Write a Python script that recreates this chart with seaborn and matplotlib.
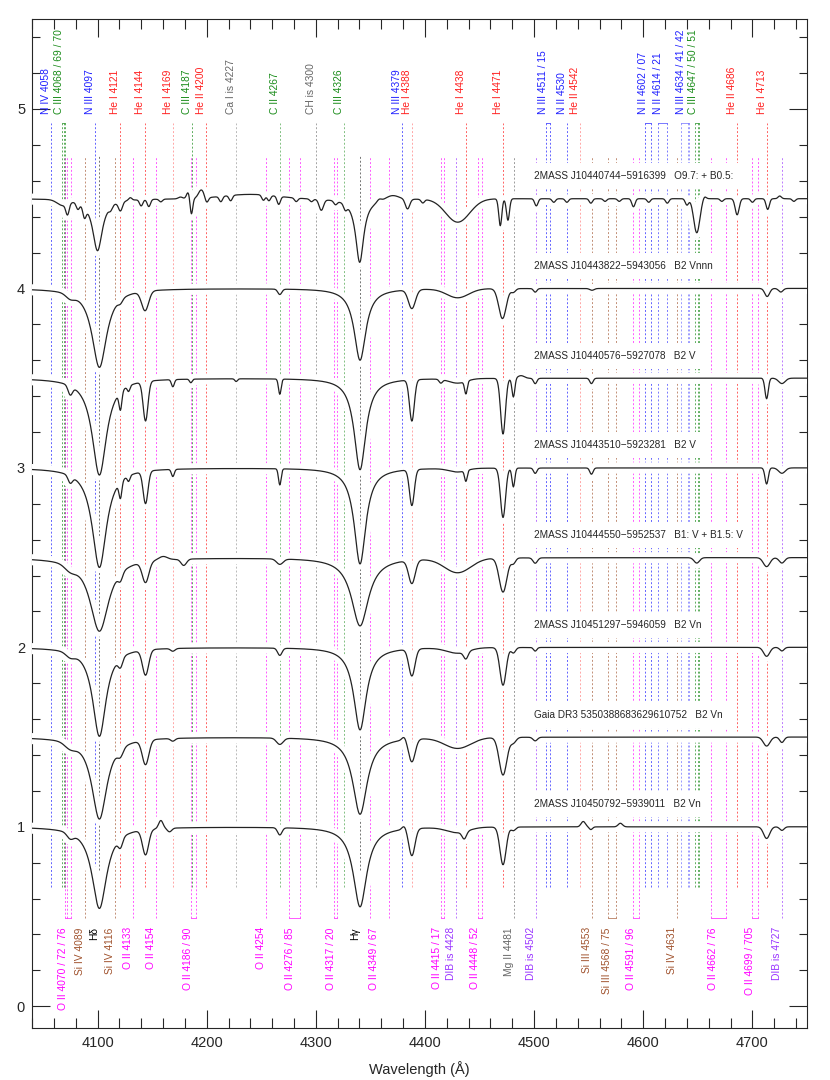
import numpy as np
import pandas as pd
import seaborn as sns
import matplotlib.pyplot as plt
import matplotlib.patheffects as pe
from matplotlib.ticker import MultipleLocator

sns.set_style('ticks')
plt.rcParams['font.family'] = ['Liberation Sans', 'DejaVu Sans']

# ---- stars: name, offset, Balmer line parameters ----
star_names = ["2MASS J10440744\u22125916399   O9.7: + B0.5:",
              "2MASS J10443822\u22125943056   B2 Vnnn",
              "2MASS J10440576\u22125927078   B2 V",
              "2MASS J10443510\u22125923281   B2 V",
              "2MASS J10444550\u22125952537   B1: V + B1.5: V",
              "2MASS J10451297\u22125946059   B2 Vn",
              "Gaia DR3 5350388683629610752   B2 Vn",
              "2MASS J10450792\u22125939011   B2 Vn"]
offsets = [4.5, 4.0, 3.5, 3.0, 2.5, 2.0, 1.5, 1.0]

hd_wl = [4100.0, 4101.7, 4101.7, 4101.7, 4101.7, 4101.7, 4101.7, 4101.7]
hd_depth = [0.29, 0.44, 0.54, 0.555, 0.41, 0.496, 0.457, 0.455]
hd_gamma = [5.5, 8.2, 8.0, 8.0, 10.5, 7.5, 8.5, 8.2]
hg_wl = [4340.2, 4340.5, 4340.5, 4340.5, 4340.5, 4340.5, 4340.5, 4340.5]
hg_depth = [0.355, 0.40, 0.51, 0.535, 0.38, 0.46, 0.43, 0.446]
hg_gamma = [4.5, 6.5, 6.5, 6.5, 9.5, 7.0, 8.0, 7.5]

# ---- other features per star: centre (A), depth, sigma (A); negative depth = bump ----
s1_wl = [4068, 4072.5, 4082, 4088, 4112, 4121, 4130, 4140, 4147, 4158, 4176, 4183, 4186, 4195,
         4200, 4213, 4222, 4240, 4252, 4257, 4266, 4282, 4296, 4305, 4318, 4327, 4358, 4370,
         4384, 4398, 4430, 4469, 4476, 4502, 4518, 4530, 4552, 4565, 4578, 4591, 4605, 4622,
         4640, 4649, 4656, 4672, 4686, 4700, 4714, 4725, 4738]
s1_depth = [0.03, 0.06, 0.035, 0.06, 0.02, 0.05, -0.015, 0.035, 0.04, 0.015, -0.01, -0.035, 0.09, -0.045,
            0.03, 0.03, 0.03, -0.025, 0.03, 0.03, 0.045, 0.02, 0.015, 0.06, 0.02, 0.03, -0.015, -0.025,
            0.055, 0.02, 0.13, 0.15, 0.12, 0.04, 0.02, 0.02, 0.025, 0.015, 0.015, 0.045, 0.02, 0.025,
            0.035, 0.19, -0.015, 0.015, 0.09, 0.02, 0.06, -0.015, 0.015]
s1_sigma = [5, 1.5, 1.5, 1.5, 1.5, 1.8, 1.5, 1.5, 1.5, 1.5, 2, 1.5, 1.2, 2.5,
            1.5, 1.5, 1.5, 25, 1.5, 1.5, 1.5, 1.5, 1.5, 2, 1.5, 1.5, 2, 6,
            2, 1.5, 11, 1.4, 1.4, 1.5, 1.5, 1.5, 1.5, 1.5, 1.5, 1.5, 1.5, 1.5,
            1.5, 2.8, 1.5, 1.5, 1.8, 1.5, 1.5, 1.5, 1.5]

s2_wl = [4075, 4121, 4143.6, 4267, 4388, 4430, 4471, 4481, 4501, 4553, 4713.5, 4726]
s2_depth = [0.025, 0.02, 0.108, 0.03, 0.105, 0.05, 0.167, 0.02, 0.02, 0.01, 0.045, 0.02]
s2_sigma = [4, 2, 3.2, 1.8, 3.2, 10, 3.4, 2, 1.5, 2, 2.2, 2]

s3_wl = [4075, 4121, 4128.5, 4144, 4169, 4185.5, 4227, 4267, 4388, 4414.5, 4430, 4437.5,
         4471.5, 4481, 4488, 4501, 4552.5, 4713, 4727]
s3_depth = [0.05, 0.10, 0.03, 0.22, 0.04, 0.02, 0.015, 0.085, 0.23, 0.02, 0.025, 0.07,
            0.31, 0.105, -0.015, 0.03, 0.03, 0.115, 0.03]
s3_sigma = [2, 1.3, 1.2, 2.2, 1.3, 1.2, 1.2, 1.2, 2.2, 1.5, 8, 1.2,
            2.2, 1.3, 3, 1.5, 1.5, 1.5, 3]

s4_wl = [4075, 4121, 4128.5, 4144, 4169, 4267, 4388, 4430, 4437.5, 4471.5, 4481, 4501,
         4552.5, 4713, 4727]
s4_depth = [0.04, 0.09, 0.03, 0.18, 0.04, 0.09, 0.20, 0.02, 0.06, 0.275, 0.105, 0.03,
            0.035, 0.09, 0.03]
s4_sigma = [2, 1.3, 1.2, 2.2, 1.3, 1.2, 2.2, 8, 1.2, 2.3, 1.3, 1.5,
            1.5, 1.5, 3]

s5_wl = [4075, 4121, 4144, 4160, 4179, 4267, 4388, 4430, 4471.5, 4481, 4501, 4649, 4713, 4727]
s5_depth = [0.03, 0.04, 0.115, -0.02, 0.035, 0.03, 0.13, 0.08, 0.19, 0.03, 0.03, 0.03, 0.05, 0.03]
s5_sigma = [5, 2, 3, 4, 2.5, 3, 3, 12, 3.5, 2, 2, 2.5, 3, 2.5]

s6_wl = [4075, 4121, 4144, 4169, 4267, 4388, 4430, 4437.5, 4471.5, 4481, 4501, 4713, 4727]
s6_depth = [0.025, 0.05, 0.14, 0.015, 0.04, 0.15, 0.03, 0.04, 0.21, 0.03, 0.02, 0.05, 0.02]
s6_sigma = [4, 2, 2.8, 2, 2, 2.8, 10, 2, 2.8, 2, 1.5, 2.8, 2]

s7_wl = [4075, 4121, 4144, 4169, 4267, 4381, 4388, 4430, 4471.5, 4481, 4501, 4713, 4727]
s7_depth = [0.03, 0.04, 0.136, 0.015, 0.035, -0.02, 0.126, 0.06, 0.21, 0.03, 0.02, 0.05, 0.03]
s7_sigma = [5, 2.5, 3, 2, 3, 2, 3, 12, 3.5, 2.5, 2, 3, 2]

s8_wl = [4075, 4121, 4144, 4158, 4166, 4267, 4381, 4388, 4430, 4436, 4471.5, 4481, 4545,
         4552, 4579, 4713, 4727]
s8_depth = [0.03, 0.05, 0.14, -0.045, 0.02, 0.04, -0.02, 0.15, 0.03, 0.04, 0.21, 0.02, -0.03,
            0.015, -0.02, 0.065, 0.02]
s8_sigma = [3, 2, 2.8, 2, 2, 2, 2, 2.8, 10, 2, 2.8, 2, 2,
            1.5, 2, 2.8, 2]

star_lines = [(s1_wl, s1_depth, s1_sigma), (s2_wl, s2_depth, s2_sigma),
              (s3_wl, s3_depth, s3_sigma), (s4_wl, s4_depth, s4_sigma),
              (s5_wl, s5_depth, s5_sigma), (s6_wl, s6_depth, s6_sigma),
              (s7_wl, s7_depth, s7_sigma), (s8_wl, s8_depth, s8_sigma)]

# ---- line identifications ----
top_labels = ["N IV 4058", "C III 4068 / 69 / 70", "N III 4097", "He I 4121", "He I 4144",
              "He I 4169", "C III 4187", "He II 4200", "Ca I is 4227", "C II 4267",
              "CH is 4300", "C III 4326", "N III 4379", "He I 4388", "He I 4438", "He I 4471",
              "N III 4511 / 15", "N II 4530", "He II 4542", "N II 4602 / 07", "N II 4614 / 21",
              "N III 4634 / 41 / 42", "C III 4647 / 50 / 51", "He II 4686", "He I 4713"]
top_waves = [[4057.8], [4067.9, 4068.9, 4070.3], [4097.3], [4120.8], [4143.8],
             [4169.0], [4186.9], [4199.8], [4226.7], [4267.2],
             [4300.3], [4325.6], [4379.1], [4387.9], [4437.6], [4471.5],
             [4510.9, 4514.9], [4530.4], [4541.6], [4601.5, 4607.2], [4613.9, 4621.4],
             [4634.1, 4640.6, 4641.8], [4647.4, 4650.3, 4651.5], [4685.7], [4713.1]]
top_colors = ['#1f1fff', '#1a8c1a', '#1f1fff', '#ff1f1f', '#ff1f1f',
              '#ff1f1f', '#1a8c1a', '#ff1f1f', '#666666', '#1a8c1a',
              '#666666', '#1a8c1a', '#1f1fff', '#ff1f1f', '#ff1f1f', '#ff1f1f',
              '#1f1fff', '#1f1fff', '#ff1f1f', '#1f1fff', '#1f1fff',
              '#1f1fff', '#1a8c1a', '#ff1f1f', '#ff1f1f']
top_alpha = [0.7, 0.7, 0.7, 0.7, 0.7, 0.4, 0.7, 0.7, 0.45, 0.55,
             0.6, 0.55, 0.7, 0.4, 0.7, 0.7, 0.7, 0.7, 0.4, 0.7, 0.6,
             0.45, 0.7, 0.7, 0.7]

bot_labels = ["O II 4070 / 72 / 76", "Si IV 4089", "H\u03b4", "Si IV 4116", "O II 4133",
              "O II 4154", "O II 4186 / 90", "O II 4254", "O II 4276 / 85", "O II 4317 / 20",
              "H\u03b3", "O II 4349 / 67", "O II 4415 / 17", "DIB is 4428", "O II 4448 / 52",
              "Mg II 4481", "DIB is 4502", "Si III 4553", "Si III 4568 / 75", "O II 4591 / 96",
              "Si IV 4631", "O II 4662 / 76", "O II 4699 / 705", "DIB is 4727"]
bot_waves = [[4069.8, 4072.2, 4075.9], [4088.9], [4101.7], [4116.1], [4132.8],
             [4153.3], [4185.4, 4189.8], [4253.9], [4275.5, 4285.7], [4317.1, 4319.6],
             [4340.5], [4349.4, 4366.9], [4414.9, 4417.0], [4428.0], [4448.2, 4452.4],
             [4481.1], [4501.8], [4552.6], [4567.8, 4574.8], [4591.0, 4596.2],
             [4631.2], [4661.6, 4676.2], [4699.2, 4705.4], [4726.8]]
bot_colors = ['#ff00ff', '#a0522d', 'black', '#a0522d', '#ff00ff',
              '#ff00ff', '#ff00ff', '#ff00ff', '#ff00ff', '#ff00ff',
              'black', '#ff00ff', '#ff00ff', '#9933ff', '#ff00ff',
              '#666666', '#9933ff', '#a0522d', '#a0522d', '#ff00ff',
              '#a0522d', '#ff00ff', '#ff00ff', '#9933ff']

grid = np.arange(4040, 4750.01, 0.5)


def make_spectrum(i):
    wl, depth, sigma = star_lines[i]
    flux = np.full_like(grid, offsets[i])
    for c, d, s in zip(wl, depth, sigma):
        flux -= d * np.exp(-0.5 * ((grid - c) / s) ** 2)
    flux -= hd_depth[i] / (1 + ((grid - hd_wl[i]) / hd_gamma[i]) ** 2)
    flux -= hg_depth[i] / (1 + ((grid - hg_wl[i]) / hg_gamma[i]) ** 2)
    return flux


fig = plt.figure(figsize=(8.3, 10.8), dpi=100)
ax = fig.add_axes([0.0386, 0.0484, 0.9337, 0.9338])

dots = (0, (2, 2))

# Top identifications
for lab, waves, col, a in zip(top_labels, top_waves, top_colors, top_alpha):
    ax.vlines(waves, 0.665, 4.92, colors=col, linestyles=dots, linewidth=0.7, alpha=a, zorder=1)
    if len(waves) > 1:
        ax.plot([min(waves), max(waves)], [4.92, 4.92], color=col, lw=0.7, alpha=a, zorder=1)
    ax.text(np.mean(waves), 4.97, lab, rotation=90, ha='right', va='bottom',
            fontsize=7.4, color=col)

# Bottom identifications
for lab, waves, col in zip(bot_labels, bot_waves, bot_colors):
    ymin = 0.76 if col == 'black' else 0.49
    a = 0.55 if col == 'black' else 0.65
    ax.vlines(waves, ymin, 4.74, colors=col, linestyles=dots, linewidth=0.7, alpha=a, zorder=1)
    if len(waves) > 1 and max(waves) - min(waves) < 15:
        ax.plot([min(waves), max(waves)], [0.49, 0.49], color=col, lw=0.7, alpha=a, zorder=1)
    ax.text(np.mean(waves), 0.44, lab, rotation=90, ha='right', va='top',
            fontsize=7.4, color=col)

# Spectra
halo = [pe.withStroke(linewidth=8, foreground='white')]
for i in range(len(offsets)):
    df = pd.DataFrame({'wave': grid, 'flux': make_spectrum(i)})
    sns.lineplot(data=df, x='wave', y='flux', ax=ax, color='#222222', lw=0.9,
                 estimator=None, sort=False, zorder=3, path_effects=halo)
    ax.text(4500, offsets[i] + 0.125, star_names[i], fontsize=7.2, ha='left', va='center',
            zorder=4, bbox=dict(boxstyle='square,pad=0.8', fc='white', ec='none'))

ax.set_xlim(4040, 4750)
ax.set_ylim(-0.12, 5.5)
ax.xaxis.set_major_locator(MultipleLocator(100))
ax.xaxis.set_minor_locator(MultipleLocator(20))
ax.yaxis.set_major_locator(MultipleLocator(1))
ax.yaxis.set_minor_locator(MultipleLocator(0.2))
ax.tick_params(which='both', direction='in', top=True, right=True, labelsize=10.5, width=0.8)
ax.tick_params(which='major', length=13)
ax.tick_params(axis='x', which='minor', length=7)
ax.tick_params(axis='y', which='minor', length=6)
ax.tick_params(axis='x', which='major', pad=6)
ax.tick_params(axis='y', which='major', pad=5)
ax.set_xlabel("Wavelength (\u00c5)", fontsize=10.5, labelpad=8)
ax.set_ylabel("")
for sp in ax.spines.values():
    sp.set_linewidth(0.8)

fig.savefig('out.png', dpi=100)
